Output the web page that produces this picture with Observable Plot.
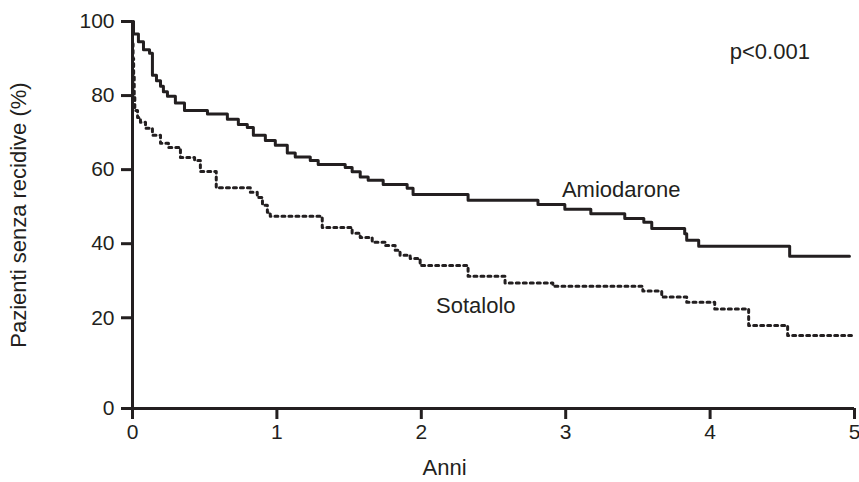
<!DOCTYPE html>
<html><head><meta charset="utf-8">
<script src="https://cdn.jsdelivr.net/npm/d3@7"></script>
<script src="https://cdn.jsdelivr.net/npm/@observablehq/plot@0.6"></script>
<style>
body{margin:0;background:#fff;}
#chart svg{font-family:"Liberation Sans",Arial,Helvetica,sans-serif;}
</style></head><body><div id="chart"></div>
<script>
// Kaplan-Meier data (years, % without recurrence)
const amioTime = [0, 0.007, 0.041, 0.076, 0.118, 0.138, 0.166, 0.194, 0.214, 0.242, 0.297, 0.36, 0.519, 0.657, 0.733, 0.795, 0.837, 0.92, 0.989, 1.072, 1.127, 1.231, 1.286, 1.473, 1.521, 1.577, 1.632, 1.736, 1.902, 1.943, 2.324, 2.808, 2.994, 3.174, 3.409, 3.541, 3.596, 3.824, 3.838, 3.921, 4.551, 4.965];
const amioSurv = [100, 96.6, 94.5, 92.4, 91.4, 85.5, 84, 82.5, 81, 79.8, 78, 76, 75, 73.6, 72.2, 71.4, 69.3, 67.9, 66.6, 64.5, 63.4, 62.5, 61.4, 60.6, 59.4, 58, 57.1, 56, 55, 53.3, 51.7, 50.6, 49.3, 48.1, 46.8, 45.8, 44.1, 42.7, 40.9, 39.3, 36.6, 36.6];
const sotaTime = [0, 0.004, 0.008, 0.012, 0.016, 0.035, 0.055, 0.09, 0.138, 0.194, 0.249, 0.332, 0.43, 0.47, 0.58, 0.816, 0.864, 0.9, 0.934, 0.954, 1.314, 1.521, 1.577, 1.66, 1.75, 1.819, 1.853, 1.923, 1.992, 2.324, 2.58, 2.911, 3.534, 3.665, 3.838, 4.032, 4.267, 4.537, 4.979];
const sotaSurv = [94, 90, 85, 80, 76, 74.1, 72.8, 71.2, 69.3, 67.1, 66, 63.3, 62.5, 59.5, 55.1, 53.9, 52.5, 50.4, 48.5, 47.4, 44.4, 42.8, 41.7, 40.4, 39.5, 38.2, 36.9, 36, 34.1, 31.2, 29.4, 28.5, 27.2, 25.6, 24.2, 22.4, 17.9, 15.2, 15.2];

const xTicks = [0, 1, 2, 3, 4, 5];
const yTicks = [0, 20, 40, 60, 80, 100];
const yAxisBase = -4.5; // offset x-axis baseline (Prism-style), labelled "0"

const seriesLabels = [
  {name: "Amiodarone", t: 2.974, s: 54.4},
  {name: "Sotalolo", t: 2.102, s: 23.3},
  {name: "p<0.001", t: 4.136, s: 91.7}
];

const ink = "#231f20";
const amio = amioTime.map((t, i) => ({t, s: amioSurv[i]}));
const sota = sotaTime.map((t, i) => ({t, s: sotaSurv[i]}));
const yTickPos = yTicks.map(v => v === 0 ? yAxisBase : v);

const chart = Plot.plot({
  width: 859, height: 482,
  marginLeft: 132, marginRight: 5, marginTop: 21, marginBottom: 74,
  style: {fontFamily: "Liberation Sans, Arial, sans-serif", fontSize: "21px", color: ink, background: "#fff", overflow: "visible"},
  x: {domain: [0, 5]},
  y: {domain: [yAxisBase, 100]},
  marks: [
    Plot.axisX({ticks: xTicks, tickFormat: d => String(d), tickSize: 11, tickPadding: 5, strokeWidth: 3, stroke: ink, fill: ink, fontSize: 21, label: null}),
    Plot.axisY({ticks: yTickPos, tickFormat: d => d < 0 ? "0" : String(d), tickSize: 11, tickPadding: 7, strokeWidth: 3, stroke: ink, fill: ink, fontSize: 21, label: null}),
    Plot.ruleY([yAxisBase], {x1: 0, x2: 5, stroke: ink, strokeWidth: 3}),
    Plot.ruleX([0], {y1: yAxisBase, y2: 100, stroke: ink, strokeWidth: 3}),
    Plot.line(sota, {x: "t", y: "s", curve: "step-after", stroke: ink, strokeWidth: 3, strokeDasharray: "3,4"}),
    Plot.line(amio, {x: "t", y: "s", curve: "step-after", stroke: ink, strokeWidth: 3}),
    Plot.text(seriesLabels, {x: "t", y: "s", text: "name", textAnchor: "start", lineAnchor: "middle", fontSize: 22, fill: ink}),
    Plot.text(["Anni"], {frameAnchor: "bottom", dx: -49, dy: 59, lineAnchor: "middle", fontSize: 22, fill: ink}),
    Plot.text(["Pazienti senza recidive (%)"], {frameAnchor: "left", dx: -114, textAnchor: "middle", rotate: -90, lineAnchor: "middle", fontSize: 22, fill: ink})
  ]
});
document.getElementById("chart").appendChild(chart);
</script></body></html>
